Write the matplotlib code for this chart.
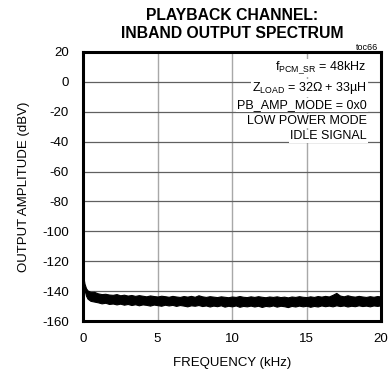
import numpy as np
import matplotlib
matplotlib.use("Agg")
import matplotlib.pyplot as plt

FONT = ['Liberation Sans Narrow', 'Liberation Sans', 'DejaVu Sans']
plt.rcParams['font.family'] = FONT
plt.rcParams['mathtext.fontset'] = 'custom'
plt.rcParams['mathtext.rm'] = 'Liberation Sans'

title_lines = ["PLAYBACK CHANNEL:", "INBAND OUTPUT SPECTRUM"]
xlabel = "FREQUENCY (kHz)"
ylabel = "OUTPUT AMPLITUDE (dBV)"
xticks = [0, 5, 10, 15, 20]
yticks = [20, 0, -20, -40, -60, -80, -100, -120, -140, -160]
notes = [r"f$_{\rm PCM\_SR}$ = 48kHz",
         r"Z$_{\rm LOAD}$ = 32$\Omega$ + 33µH",
         "PB_AMP_MODE = 0x0",
         "LOW POWER MODE",
         "IDLE SIGNAL"]

# start of the spectrum (kHz) and noise band envelopes (dBV)
freq_start = [0.0, 0.05, 0.1, 0.2, 0.3, 0.5, 0.75]
upper_start = [-128, -132, -135, -138, -139.5, -140.5, -140.5]
lower_start = [-131, -136, -139, -143, -145, -146.5, -147]

freq_grid = np.arange(1.0, 20.001, 0.25)
upper_rest = [-141.5, -142, -141.8, -142.3, -142.5, -142, -142.8, -142.4, -143, -142.6,
              -143.2, -142.7, -143.1, -143.5, -142.9, -143.3, -143.6, -143.1, -143.4, -143.8,
              -143.2, -143.6, -143.9, -143.3, -143.7, -143.2, -143.8, -142.8, -143.5, -143.9,
              -143.4, -143.7, -144.0, -143.5, -143.8, -144.1, -143.6, -143.9, -143.3, -143.8,
              -144.0, -143.5, -143.9, -143.4, -143.8, -144.1, -143.6, -143.9, -143.5, -144.0,
              -143.7, -144.2, -143.6, -143.9, -143.4, -143.8, -144.0, -143.5, -143.9, -143.3,
              -143.7, -143.2, -143.6, -142.5, -141.2, -143.0, -143.5, -142.8, -143.4, -143.7,
              -143.2, -143.6, -143.9, -143.4, -143.8, -143.3, -143.6]
lower_rest = [-147.5, -148.2, -147.8, -148.6, -148.3, -148.9, -148.4, -149.1, -148.6, -149.3,
              -148.8, -149.5, -148.9, -149.2, -149.7, -149.0, -149.4, -149.8, -149.1, -149.6,
              -149.2, -149.9, -149.3, -149.7, -150.2, -149.5, -149.8, -149.3, -150.0, -149.6,
              -150.3, -149.7, -150.1, -149.5, -150.4, -149.8, -150.2, -149.6, -150.5, -149.9,
              -150.2, -149.7, -150.3, -149.8, -150.6, -149.9, -150.2, -149.6, -150.4, -149.8,
              -150.1, -150.7, -149.9, -150.3, -149.7, -150.2, -149.8, -150.5, -149.9, -150.3,
              -149.6, -150.1, -149.7, -150.2, -149.5, -150.0, -149.6, -150.3, -149.8, -150.1,
              -149.5, -150.0, -149.7, -150.2, -149.6, -149.9, -149.5]

freq = np.concatenate([freq_start, freq_grid])
upper = np.concatenate([upper_start, upper_rest])
lower = np.concatenate([lower_start, lower_rest])

fig = plt.figure(figsize=(3.9, 3.75), dpi=100)
ax = fig.add_axes([83/390, 1-321/375, 298/390, 269/375])

ax.set_xlim(0, 20)
ax.set_ylim(-160, 20)
ax.set_xticks(xticks)
ax.set_yticks(yticks)
ax.set_xticklabels([str(t) for t in xticks], fontsize=9.5)
ax.set_yticklabels([str(t) for t in yticks], fontsize=9.5)
ax.tick_params(length=0, pad=9)
ax.tick_params(axis='y', pad=10)

for t in [5, 10, 15]:
    ax.axvline(t, color='#a8a8a8', lw=1.0, zorder=1)
for t in yticks[1:-1]:
    ax.axhline(t, color='#606060', lw=0.9, zorder=1)

ax.fill_between(freq, lower, upper, color='black', lw=0.8, edgecolor='black', zorder=3)

for s in ax.spines.values():
    s.set_linewidth(2.2)
    s.set_zorder(5)

note_y = [9.3, -4.1, -15.5, -26.2, -36.5]
for txt, y in zip(notes, note_y):
    ax.text(19.05, y, txt, ha='right', va='center', fontsize=9, zorder=4,
            bbox=dict(facecolor='white', edgecolor='none', pad=0.6))

ax.set_xlabel(xlabel, fontsize=9.5, labelpad=8)
ax.set_ylabel(ylabel, fontsize=9.5, labelpad=9)

fig.text(232/390, 1-15/375, title_lines[0], ha='center', va='center',
         fontsize=11.3, fontweight='bold')
fig.text(232/390, 1-33/375, title_lines[1], ha='center', va='center',
         fontsize=11.3, fontweight='bold')
fig.text(378/390, 1-47/375, "toc66", ha='right', va='center', fontsize=6.5)

fig.savefig("out.png", dpi=100)
